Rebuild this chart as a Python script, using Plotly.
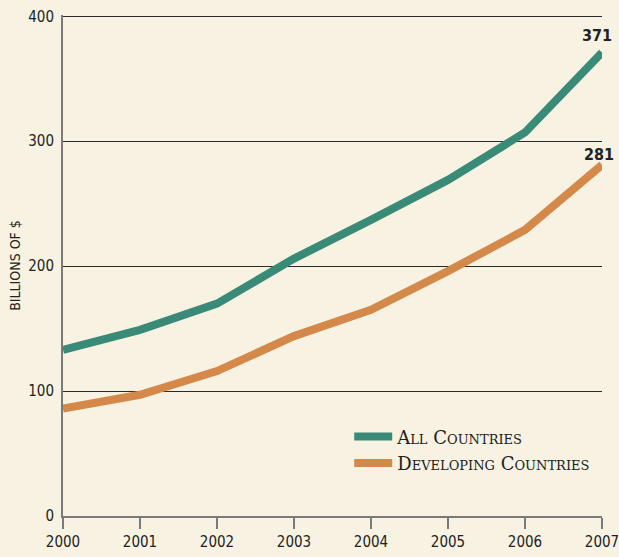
import plotly.graph_objects as go

years = [2000, 2001, 2002, 2003, 2004, 2005, 2006, 2007]
all_countries = [133, 149, 170, 206, 237, 269, 307, 371]
developing = [86, 97, 116, 144, 165, 196, 229, 281]
y_ticks = [0, 100, 200, 300, 400]

BG = "#F7F2E1"
TEAL = "#3A8A78"
ORANGE = "#D4894B"
NARROW = "DejaVu Sans Condensed"

fig = go.Figure()
fig.add_trace(go.Scatter(x=years, y=all_countries, mode="lines", name="All Countries",
                         line=dict(color=TEAL, width=8)))
fig.add_trace(go.Scatter(x=years, y=developing, mode="lines", name="Developing Countries",
                         line=dict(color=ORANGE, width=8)))

fig.add_annotation(x=years[-1], y=all_countries[-1], text="<b>%d</b>" % all_countries[-1],
                   showarrow=False, xanchor="right", yanchor="bottom", xshift=12, yshift=5,
                   font=dict(family=NARROW, size=16, color="#222"))
fig.add_annotation(x=years[-1], y=developing[-1], text="<b>%d</b>" % developing[-1],
                   showarrow=False, xanchor="right", yanchor="bottom", xshift=14, yshift=-1,
                   font=dict(family=NARROW, size=16, color="#222"))

fig.update_layout(
    width=619, height=557,
    paper_bgcolor=BG, plot_bgcolor=BG,
    margin=dict(l=63, r=17, t=15, b=41, autoexpand=False),
    showlegend=True,
    legend=dict(x=0.531, y=0.195, xanchor="left", yanchor="top",
                bgcolor="rgba(0,0,0,0)",
                font=dict(family="DejaVu Serif, serif", size=18, color="#222",
                          variant="small-caps"),
                tracegroupgap=0, itemwidth=38),
    xaxis=dict(range=[2000, 2007], tickvals=years, ticktext=[str(y) for y in years],
               showgrid=False, showline=True, linecolor="#7a7a7a", linewidth=2,
               ticks="outside", ticklen=11, tickcolor="#7a7a7a", tickwidth=2,
               tickfont=dict(family=NARROW, size=15, color="#222"),
               ticklabeloverflow="allow",
               zeroline=False, fixedrange=True),
    yaxis=dict(range=[0, 401], tickvals=y_ticks,
               showgrid=True, gridcolor="#2a2a2a", gridwidth=1,
               showline=True, linecolor="#7a7a7a", linewidth=2,
               ticks="", ticklabelstandoff=4,
               tickfont=dict(family=NARROW, size=15, color="#222"),
               title=dict(text="BILLIONS OF $", standoff=4,
                          font=dict(family=NARROW, size=14, color="#222")),
               zeroline=False, fixedrange=True),
)

fig.write_html("out.html", config={"displayModeBar": False},
               post_script="document.body.style.margin='0';")
